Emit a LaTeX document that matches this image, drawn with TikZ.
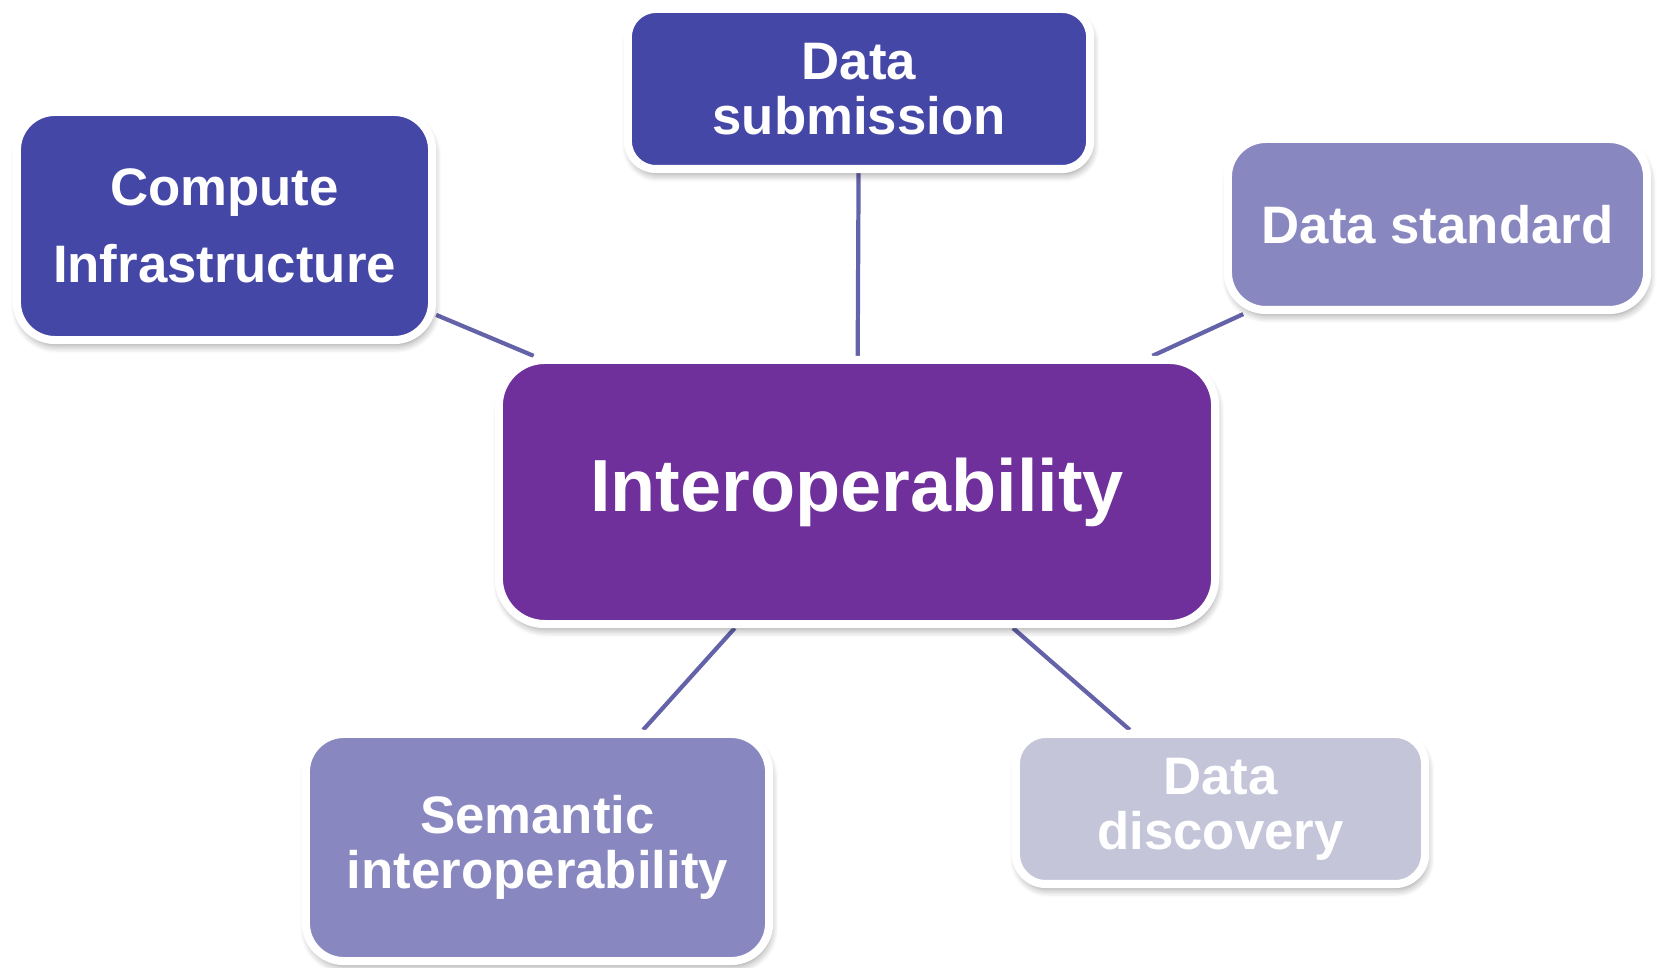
\documentclass[tikz,border=0pt]{standalone}
\usepackage{fontspec}
\setmainfont{Liberation Sans}
\usetikzlibrary{backgrounds,shadows.blur}

\definecolor{deepblue}{HTML}{4547A7}
\definecolor{hubpurple}{HTML}{70309C}
\definecolor{midlilac}{HTML}{8887C0}
\definecolor{palelilac}{HTML}{C5C5DA}
\definecolor{linkblue}{HTML}{6462A8}

\tikzset{
  box/.style={draw=white, line width=2.3pt, rounded corners=0.38cm,
    align=center, text=white, inner sep=0pt,
    font=\bfseries\fontsize{15}{15.6}\selectfont,
    blur shadow={shadow xshift=0.5pt, shadow yshift=-1.6pt,
      shadow blur steps=6, shadow opacity=40}},
  link/.style={draw=linkblue, line width=1.2pt}
}

\begin{document}
\begin{tikzpicture}[x=0.01cm, y=-0.01cm]
    \useasboundingbox (0,0) rectangle (1657,968);

    \node[box, fill=hubpurple, rounded corners=0.46cm, minimum width=7.16cm, minimum height=2.64cm,
          font=\bfseries\fontsize{21}{24}\selectfont] (hub) at (857,492) {Interoperability};
    \node[box, fill=deepblue, minimum width=4.15cm, minimum height=2.28cm,
          font=\bfseries\fontsize{15}{22}\selectfont] (compute) at (224.5,226) {Compute\\Infrastructure};
    \node[box, fill=deepblue, rounded corners=0.28cm, minimum width=4.62cm, minimum height=1.60cm] (submit) at (859,89) {Data\\submission};
    \node[box, fill=midlilac, minimum width=4.19cm, minimum height=1.71cm] (standard) at (1437.5,224.5) {Data standard};
    \node[box, fill=midlilac, minimum width=4.63cm, minimum height=2.27cm] (semantic) at (537.5,847.5) {Semantic\\interoperability};
    \node[box, fill=palelilac, rounded corners=0.3cm, minimum width=4.09cm, minimum height=1.50cm] (discover) at (1220.5,809) {Data\\discovery};

    \begin{scope}[on background layer]
    \path[link]
    (hub) edge (compute)
    (hub) edge (submit)
    (hub) edge (standard)
    (hub) edge (semantic)
    (hub) edge (discover);
    \end{scope}
\end{tikzpicture}
\end{document}
